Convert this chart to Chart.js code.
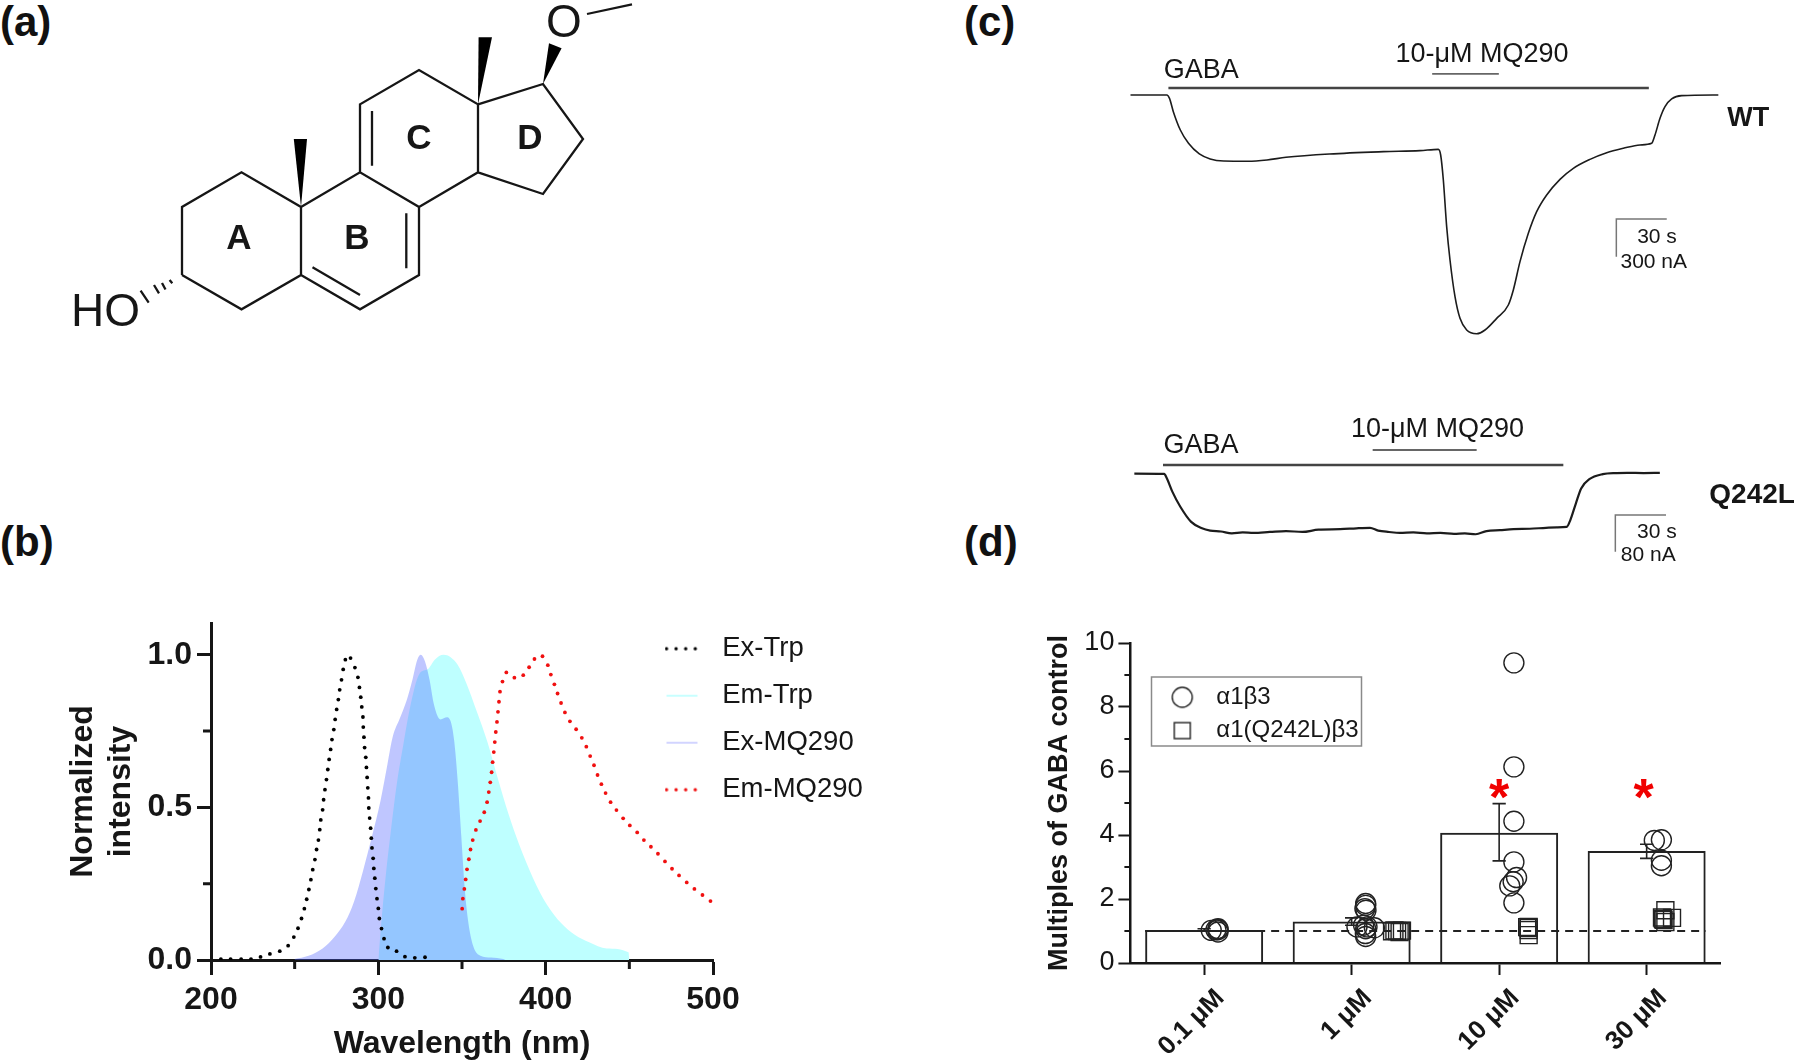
<!DOCTYPE html>
<html>
<head>
<meta charset="utf-8">
<title>MQ290 figure</title>
<script src="https://cdn.jsdelivr.net/npm/chart.js@4"></script>
<style>
    html, body { margin: 0; background: #fff; width: 1800px; height: 1064px; overflow: hidden; }
    canvas { position: absolute; }
    .tag { position: absolute; font: bold 42px "Liberation Sans", Arial, sans-serif; color: #111; line-height: 46px; }
</style>
</head>
<body>
<div class="tag" style="left:0;top:-1px">(a)</div>
<div class="tag" style="left:0;top:519px">(b)</div>
<div class="tag" style="left:964px;top:-1px">(c)</div>
<div class="tag" style="left:964px;top:519px">(d)</div>
<script>
// (a) steroid skeleton, null starts a new stroke
const bondX = [182,182,241.5,301,301,241.5,182,null,301,360,419,419,360,301,null,360,360,419,478,478,419,null,478,543,583,543,478,null,
    312.5,360,null,406.3,406.3,null,372,372,null,587,632,null,169.6,172.3,null,162,165.5,null,154,159,null,140.6,148.7];
const bondY = [275,207,172.3,207,275,309.3,275,null,275,309.3,275,207,172.3,207,null,172.3,104.3,70,104.3,172.3,207,null,172.3,194,139,84,104.3,null,
    267.3,295,null,213.3,268.3,null,111,165.7,null,14,4.3,null,280,283.3,null,283,289.5,null,285,293.3,null,290.7,302.7];
const wedgeX = [[301,293.8,307],[478,478.6,492],[543,549,561.6]];
const wedgeY = [[207,139,139],[104.3,37.3,37.3],[84,43.3,48.3]];

// (b) spectra
const exTrpNm = [205.9,211.7,218,223.9,229.6,235.2,241.1,246.1,249.5,252,254.1,255.8,257.2,258.5,259.7,260.8,262.1,263.1,264.2,265,265.6,266.7,267.3,268.1,269,269.8,270.6,271.5,272.3,273.4,274.2,275.1,276.1,276.9,278,279,280.3,283.4,286,287.8,288.7,289.5,290.1,290.8,291,291.4,291.8,292.5,292.9,293.3,293.7,294.1,294.3,294.8,295.4,295.8,296.2,296.9,297.3,297.9,298.5,299.2,300,300.6,301.9,303.4,305.7,310.9,315.9,321.8,327.9];
const exTrpVal = [.003,.003,.003,.003,.01,.02,.029,.047,.075,.104,.136,.168,.199,.231,.263,.296,.329,.362,.393,.427,.459,.492,.525,.558,.591,.624,.657,.69,.722,.755,.788,.821,.853,.885,.918,.952,.984,.989,.958,.926,.893,.861,.829,.796,.763,.73,.696,.664,.631,.598,.564,.531,.498,.465,.432,.399,.367,.333,.3,.268,.234,.201,.169,.136,.103,.07,.041,.029,.011,.007,.009];
const emMqNm = [350.1,350.5,351.4,352.2,353,354.1,355.1,356.4,358.3,360.8,363.3,365,366,366.9,367.7,368.3,369,369.6,370.2,370.9,371.5,372.1,372.7,374.2,376.5,381.3,386.6,390.1,393.3,398.1,401.3,403.1,405.2,407.1,409.2,411.5,414.5,418.2,421.6,424.3,426.6,428.9,431,433.3,435.8,438.8,442.3,446.3,450.3,454.7,458.7,462.9,467.1,471.3,475.5,479.7,484.3,488.9,493.7,498.5];
const emMqVal = [.168,.201,.233,.264,.297,.33,.362,.393,.426,.455,.484,.517,.55,.582,.615,.648,.681,.714,.747,.78,.813,.846,.879,.912,.942,.925,.933,.959,.986,.995,.966,.935,.903,.873,.842,.811,.782,.756,.728,.699,.668,.638,.606,.576,.547,.517,.491,.464,.441,.418,.393,.371,.348,.323,.299,.277,.254,.233,.213,.193];
const emTrpNm = [300,302,304.5,307.7,311,315,319,324.5,329.6,333.7,339,343.2,347.4,352.6,358.9,365.2,371.5,377.8,384.1,392.4,400.8,409.2,417.6,426,436.5,449.5,450];
const emTrpVal = [0,.137,.28,.433,.576,.708,.829,.937,.953,.984,1,.992,.967,.907,.813,.714,.593,.478,.379,.269,.181,.121,.082,.058,.038,.025,0];
const exMqNm = [249.9,258.3,266.7,274,280.3,285.5,290.8,296,301.3,305.5,308.6,312.8,317,320.1,323.3,325.4,327.9,330.6,333.3,337.1,341.1,343.6,345.3,347.4,349.5,351.6,353.7,356.8,361,367.3,374.6,376];
const exMqVal = [.003,.014,.038,.077,.126,.192,.291,.401,.522,.643,.731,.791,.852,.912,.984,1,.978,.918,.835,.788,.795,.775,.72,.588,.412,.236,.126,.044,.014,.008,.003,0];

// (c) current traces, seconds and nA
const wtTime = [0,21.8,23.4,25.7,29.9,34.8,41.3,47.8,55.9,70.5,81.9,93.3,119.3,151.8,173.7,184.7,186.1,187.7,189.7,191.7,194.7,197.7,201.7,207.7,212.7,219.7,226.7,229.7,233.7,238.7,243.7,249.7,257.7,265.7,275.7,285.7,295.7,305.7,312.7,314.7,317.7,320.7,324.7,330.7,352.7];
const wtCurrent = [0,0,-26,-130,-273,-377,-460,-499,-515,-517,-507,-486,-460,-442,-434,-424,-468,-663,-1027,-1287,-1573,-1742,-1833,-1862,-1833,-1742,-1638,-1521,-1300,-1079,-910,-780,-658,-572,-502,-450,-416,-390,-377,-312,-182,-91,-31,-5,0];
const mutTime = [0,17.9,19.5,22.8,27.6,34.1,40.6,45.5,52,58.5,65,71.5,81.3,91,100.8,110.5,123.5,133.3,141.4,146.3,152.8,159.3,167.4,175.5,183.6,191.8,198.3,204.8,211.3,219.4,227.5,237.3,247,253.5,259.4,261.6,264.9,268.1,273,281.1,289.3,295.8,305.5,315.3];
const mutCurrent = [0,-.5,-10,-39,-72,-105,-119,-124,-126,-130,-128,-129,-127,-125,-127,-122,-121,-119,-118,-124,-127,-129,-128,-130,-129,-131,-130,-132,-125,-123,-121,-120,-118,-117,-116,-101,-65,-32,-12,-1,1.5,2,1.5,2];

// (d) concentration response
const doses = ['0.1 μM','1 μM','10 μM','30 μM'];
const meanFold = [1.03,1.3,4.07,3.5];
const errHigh = [1.07,1.41,4.98,3.71];
const errLow = [.99,1.18,3.19,3.27];
const wtPos = [.094,.094,.048,.094,.08,1.095,1.095,1.09,1.097,1.081,1.095,1.104,1.093,1.095,1.154,1.036,2.1,2.1,2.1,2.1,2.118,2.095,2.072,2.1,3.052,3.1,3.1,3.1];
const wtFold = [1.07,.97,1.02,1.04,1.04,1.86,1.8,1.7,1.65,1.18,1.07,1.13,.92,.83,1.1,1.125,9.38,6.13,4.43,3.16,2.67,2.54,2.41,1.88,3.83,3.85,3.21,3.04];
const mutPos = [1.274,1.29,1.308,1.325,1.341,2.2,2.2,2.19,2.2,2.2,3.127,3.104,3.172,3.115,3.127,3.11];
const mutFold = [.99,1.02,1,.97,1.01,1.13,1.1,1.12,1.03,.87,1.65,1.42,1.41,1.35,1.28,1.38];

const FONT = '"Liberation Sans", Arial, sans-serif';
const INK = '#161616';
Chart.defaults.font.family = FONT;
Chart.defaults.color = INK;
Chart.defaults.animation = false;
Chart.defaults.responsive = false;
Chart.defaults.plugins.tooltip.enabled = false;
Chart.defaults.plugins.legend.display = false;

function zip(xs, ys) {
    return xs.map((x, i) => ({x: x, y: ys[i]}));
}

function addCanvas(left, top, width, height) {
    const c = document.createElement('canvas');
    c.width = width;
    c.height = height;
    c.style.left = left + 'px';
    c.style.top = top + 'px';
    document.body.appendChild(c);
    return c.getContext('2d');
}

// Text placed in data coordinates
function notes(items, xId) {
    return {
        id: 'notes',
        afterDatasetsDraw(chart) {
            const ctx = chart.ctx;
            ctx.save();
            ctx.textBaseline = 'middle';
            items.forEach(n => {
                ctx.font = n.font + ' ' + FONT;
                ctx.fillStyle = n.color || INK;
                ctx.textAlign = n.align || 'left';
                ctx.fillText(n.text, chart.scales[xId || 'x'].getPixelForValue(n.x), chart.scales.y.getPixelForValue(n.y));
            });
            ctx.restore();
        }
    };
}

// Short unlabelled ticks next to the library's long ones
function minorTicks(axis, values, length, width) {
    return {
        id: 'minorTicks' + axis,
        afterDatasetsDraw(chart) {
            const ctx = chart.ctx, area = chart.chartArea;
            ctx.save();
            ctx.strokeStyle = INK;
            ctx.lineWidth = width;
            ctx.beginPath();
            values.forEach(v => {
                const p = chart.scales[axis].getPixelForValue(v);
                if (axis === 'y') {
                    ctx.moveTo(area.left, p);
                    ctx.lineTo(area.left - length, p);
                } else {
                    ctx.moveTo(p, area.bottom);
                    ctx.lineTo(p, area.bottom + length);
                }
            });
            ctx.stroke();
            ctx.restore();
        }
    };
}

// The legend is placed by hand, it sits partly over the plot
function moveLegend(left, top, boxed) {
    return {
        id: 'moveLegend',
        afterLayout(chart) {
            const l = chart.legend;
            l.left = left;
            l.top = top;
            l.right = chart.width;
            l.bottom = chart.height;
        },
        beforeDraw(chart) {
            if (!boxed) return;
            const ctx = chart.ctx;
            ctx.save();
            ctx.strokeStyle = '#8a8a8a';
            ctx.lineWidth = 1.5;
            ctx.strokeRect(boxed[0], boxed[1], boxed[2], boxed[3]);
            ctx.restore();
        }
    };
}

function swatch(width, height, paint) {
    const c = document.createElement('canvas');
    c.width = width;
    c.height = height;
    paint(c.getContext('2d'));
    return c;
}

function lineSwatch(color, lineWidth, dash) {
    return swatch(34, 6, ctx => {
        ctx.strokeStyle = color;
        ctx.lineWidth = lineWidth;
        ctx.lineCap = dash ? 'round' : 'butt';
        ctx.setLineDash(dash || []);
        ctx.beginPath();
        ctx.moveTo(2, 3);
        ctx.lineTo(33, 3);
        ctx.stroke();
    });
}

function legendFrom(chart) {
    return chart.data.datasets.map((d, i) => ({
        text: d.label,
        datasetIndex: i,
        pointStyle: d.legendMark,
        fontColor: INK,
        hidden: false
    })).filter(item => item.pointStyle);
}

function hiddenAxes(xMin, xMax, yMin, yMax, reverse) {
    return {
        x: {type: 'linear', display: false, min: xMin, max: xMax},
        y: {type: 'linear', display: false, min: yMin, max: yMax, reverse: !!reverse}
    };
}

// ---------- (a)
new Chart(addCanvas(0, 0, 700, 380), {
    type: 'scatter',
    data: {datasets: [{
        data: zip(bondX, bondY),
        showLine: true,
        pointRadius: 0,
        borderColor: INK,
        borderWidth: 2.3,
        borderCapStyle: 'butt',
        borderJoinStyle: 'miter'
    }]},
    options: {
        scales: hiddenAxes(0, 700, 0, 380, true)
    },
    plugins: [{
        id: 'wedges',
        afterDatasetsDraw(chart) {
            const ctx = chart.ctx, sx = chart.scales.x, sy = chart.scales.y;
            ctx.save();
            ctx.fillStyle = '#000';
            wedgeX.forEach((xs, k) => {
                ctx.beginPath();
                xs.forEach((x, i) => ctx.lineTo(sx.getPixelForValue(x), sy.getPixelForValue(wedgeY[k][i])));
                ctx.closePath();
                ctx.fill();
            });
            ctx.restore();
        }
    }, notes([
        {text: 'HO', x: 71, y: 313, font: '46px'},
        {text: 'O', x: 564, y: 24, font: '46px', align: 'center'},
        {text: 'A', x: 239, y: 239, font: 'bold 35px', align: 'center'},
        {text: 'B', x: 357, y: 239, font: 'bold 35px', align: 'center'},
        {text: 'C', x: 419, y: 139, font: 'bold 35px', align: 'center'},
        {text: 'D', x: 530, y: 139, font: 'bold 35px', align: 'center'}
    ])]
});

// ---------- (b)
new Chart(addCanvas(0, 600, 900, 464), {
    type: 'scatter',
    data: {datasets: [
        {label: 'Ex-Trp', data: zip(exTrpNm, exTrpVal), pointRadius: 1.9, pointBackgroundColor: '#000', pointBorderWidth: 0, order: 1,
            legendMark: lineSwatch('#000', 3.4, [0, 9.6])},
        {label: 'Em-Trp', data: zip(emTrpNm, emTrpVal), showLine: true, fill: 'origin', pointRadius: 0, borderWidth: 0,
            backgroundColor: 'rgb(190,255,255)', cubicInterpolationMode: 'monotone', order: 4,
            legendMark: lineSwatch('rgb(200,255,255)', 2)},
        {label: 'Ex-MQ290', data: zip(exMqNm, exMqVal), showLine: true, fill: 'origin', pointRadius: 0, borderWidth: 0,
            backgroundColor: 'rgba(71,92,255,.35)', cubicInterpolationMode: 'monotone', order: 3,
            legendMark: lineSwatch('rgb(210,212,255)', 2)},
        {label: 'Em-MQ290', data: zip(emMqNm, emMqVal), pointRadius: 1.9, pointBackgroundColor: '#f01010', pointBorderWidth: 0, order: 2,
            legendMark: lineSwatch('#f01010', 3.4, [0, 9.6])}
    ]},
    options: {
        layout: {padding: {top: 23, right: 187}},
        plugins: {
            legend: {
                display: true,
                position: 'chartArea',
                align: 'start',
                labels: {
                    usePointStyle: true,
                    pointStyleWidth: 54,
                    padding: 19.5,
                    font: {size: 27.5},
                    generateLabels: legendFrom
                }
            }
        },
        scales: {
            x: {
                type: 'linear', min: 200, max: 500,
                afterFit(s) { s.height = 104; s.paddingLeft = s.paddingRight = 0; },
                border: {color: INK, width: 3},
                grid: {drawOnChartArea: false, tickLength: 15, tickWidth: 3, tickColor: INK},
                ticks: {stepSize: 100, padding: 6, maxRotation: 0, font: {size: 32, weight: 'bold'}},
                title: {display: true, text: 'Wavelength (nm)', font: {size: 32, weight: 'bold'}, padding: {bottom: 1, top: 0}}
            },
            y: {
                type: 'linear', min: 0, max: 1.104,
                afterFit(s) { s.width = 211; s.paddingTop = s.paddingBottom = 0; },
                border: {color: INK, width: 3},
                grid: {drawOnChartArea: false, tickLength: 14, tickWidth: 3, tickColor: INK},
                ticks: {stepSize: .5, includeBounds: false, padding: 5, font: {size: 32, weight: 'bold'}, callback: v => v.toFixed(1)},
                title: {display: true, text: ['Normalized', 'intensity'], font: {size: 32, weight: 'bold', lineHeight: 1.2}, padding: {top: 64, bottom: 0}}
            }
        }
    },
    plugins: [moveLegend(635, 15.5), minorTicks('x', [250, 350, 450], 9, 3), minorTicks('y', [.25, .75], 8, 3)]
});

// ---------- (c)
function traceChart(left, top, height, range, time, current, lineWidth, gaba, mq, bar, texts) {
    new Chart(addCanvas(left, top, 700, height), {
        type: 'scatter',
        data: {datasets: [
            {data: zip(time, current), showLine: true, pointRadius: 0, borderColor: '#1c1c1c', borderWidth: lineWidth, cubicInterpolationMode: 'monotone'},
            {data: zip(gaba[0], gaba[1]), showLine: true, pointRadius: 0, borderColor: '#444', borderWidth: 2.4},
            {data: zip(mq[0], mq[1]), showLine: true, pointRadius: 0, borderColor: '#666', borderWidth: 1.8},
            {data: zip(bar[0], bar[1]), showLine: true, pointRadius: 0, borderColor: '#777', borderWidth: 1.5}
        ]},
        options: {scales: hiddenAxes(range[0], range[1], range[2], range[3])},
        plugins: [notes(texts)]
    });
}

traceChart(1100, 20, 320, [-18.3, 401.7, -1911, 585], wtTime, wtCurrent, 1.6,
    [[22.75, 311], [55, 55]], [[181, 221], [164, 164]],
    [[321.75, 291.5, 291.5], [-967, -967, -1261]],
    [
        {text: 'GABA', x: 20, y: 194, font: '27px'},
        {text: '10-μM MQ290', x: 159, y: 312, font: '27px'},
        {text: 'WT', x: 358, y: -181, font: 'bold 27px'},
        {text: '30 s', x: 304, y: -1107, font: '21px'},
        {text: '300 nA', x: 294, y: -1302, font: '21px'}
    ]);

traceChart(1100, 395, 180, [-20.6, 399.4, -220.8, 171.6], mutTime, mutCurrent, 2.2,
    [[17.2, 257.4], [19, 19]], [[143, 205.4], [51.7, 51.7]],
    [[319, 288.6, 288.6], [-90, -90, -170]],
    [
        {text: 'GABA', x: 17.5, y: 61, font: '27px'},
        {text: '10-μM MQ290', x: 130, y: 97, font: '27px'},
        {text: 'Q242L', x: 345, y: -48, font: 'bold 28px'},
        {text: '30 s', x: 301.6, y: -127, font: '21px'},
        {text: '80 nA', x: 291.9, y: -177, font: '21px'}
    ]);

// ---------- (d)
const errBars = [];
errHigh.forEach((hi, i) => {
    const lo = errLow[i], w = .045;
    errBars.push({x: i - w, y: hi}, {x: i + w, y: hi}, {x: null, y: null},
        {x: i, y: hi}, {x: i, y: lo}, {x: null, y: null},
        {x: i - w, y: lo}, {x: i + w, y: lo}, {x: null, y: null});
});

new Chart(addCanvas(1040, 620, 760, 444), {
    type: 'bar',
    data: {
        labels: doses,
        datasets: [
            {data: meanFold, xAxisID: 'x', backgroundColor: 'transparent', borderColor: '#222', borderWidth: 2, grouped: false, barPercentage: .8, categoryPercentage: 1, order: 5},
            {type: 'scatter', xAxisID: 'xs', data: [{x: -.4, y: 1}, {x: 3.4, y: 1}], showLine: true, pointRadius: 0, borderColor: '#222', borderWidth: 1.8, borderDash: [8, 6], order: 4},
            {type: 'scatter', xAxisID: 'xs', data: errBars, showLine: true, pointRadius: 0, borderColor: '#222', borderWidth: 1.6, order: 3},
            {type: 'scatter', xAxisID: 'xs', label: 'α1β3', data: zip(wtPos, wtFold), pointStyle: 'circle', pointRadius: 10, pointBorderWidth: 1.4,
                pointBorderColor: '#222', pointBackgroundColor: 'transparent', order: 2,
                legendMark: swatch(24, 24, ctx => { ctx.strokeStyle = '#222'; ctx.lineWidth = 1.4; ctx.beginPath(); ctx.arc(12, 12, 10, 0, 7); ctx.stroke(); })},
            {type: 'scatter', xAxisID: 'xs', label: 'α1(Q242L)β3', data: zip(mutPos, mutFold), pointStyle: 'rect', pointRadius: 12, pointBorderWidth: 1.4,
                pointBorderColor: '#222', pointBackgroundColor: 'transparent', order: 1,
                legendMark: swatch(24, 24, ctx => { ctx.strokeStyle = '#222'; ctx.lineWidth = 1.4; ctx.strokeRect(4, 4, 16, 16); })}
        ]
    },
    options: {
        layout: {padding: {top: 23, right: 79.6}},
        plugins: {
            legend: {
                display: true,
                position: 'chartArea',
                align: 'start',
                labels: {
                    usePointStyle: true,
                    pointStyleWidth: 44,
                    padding: 9.3,
                    font: {size: 24},
                    generateLabels: legendFrom
                }
            }
        },
        scales: {
            x: {
                type: 'category',
                offset: true,
                afterFit(s) { s.height = 101; s.paddingLeft = s.paddingRight = 0; },
                border: {color: INK, width: 2.5},
                grid: {offset: false, drawOnChartArea: false, tickLength: 12, tickWidth: 2, tickColor: INK},
                ticks: {minRotation: 45, maxRotation: 45, padding: 8, labelOffset: 16, font: {size: 26, weight: 'bold'}}
            },
            xs: {type: 'linear', display: false, offset: false, min: -.5, max: 3.5},
            y: {
                type: 'linear', min: 0, max: 10,
                afterFit(s) { s.width = 90.4; s.paddingTop = s.paddingBottom = 0; },
                border: {color: INK, width: 2.5},
                grid: {drawOnChartArea: false, tickLength: 12, tickWidth: 2, tickColor: INK},
                ticks: {stepSize: 2, padding: 4, font: {size: 27}},
                title: {display: true, text: 'Multiples of GABA control', font: {size: 27, weight: 'bold'}, padding: {top: 3, bottom: 0}}
            }
        }
    },
    plugins: [
        moveLegend(111, 56, [111.5, 57, 210, 69]),
        minorTicks('y', [1, 3, 5, 7, 9], 6, 2),
        notes([
            {text: '*', x: 2, y: 5.06, font: 'bold 52px', color: '#f00000', align: 'center'},
            {text: '*', x: 2.98, y: 5.06, font: 'bold 52px', color: '#f00000', align: 'center'}
        ], 'xs')
    ]
});
</script>
</body>
</html>
